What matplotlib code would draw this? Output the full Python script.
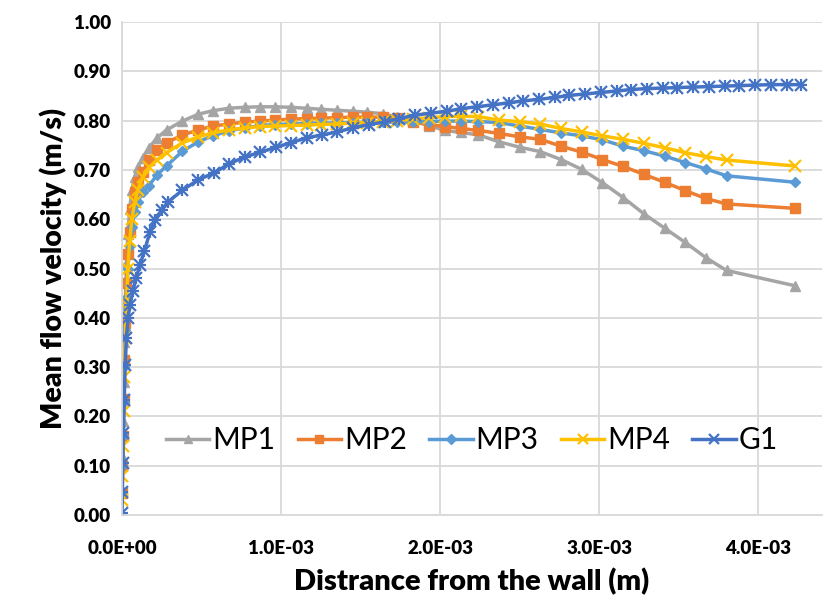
import matplotlib
matplotlib.use("Agg")
import matplotlib.pyplot as plt
from matplotlib.ticker import FuncFormatter

# ---- data (x in mm, converted to m when plotting) ----
mp_x_mm = [0.001, 0.003, 0.006, 0.010, 0.015, 0.021, 0.028, 0.037, 0.048, 0.062,
           0.080, 0.10, 0.13, 0.17, 0.22, 0.28, 0.38, 0.48, 0.57, 0.67,
           0.77, 0.87, 0.96, 1.06, 1.16, 1.25, 1.35, 1.45, 1.54, 1.64,
           1.73, 1.83, 1.93, 2.03, 2.13, 2.24, 2.37, 2.50, 2.63, 2.76,
           2.89, 3.02, 3.15, 3.28, 3.41, 3.54, 3.67, 3.80, 4.23]

mp1 = [0.05, 0.12, 0.19, 0.27, 0.35, 0.43, 0.51, 0.57, 0.62, 0.66,
       0.685, 0.705, 0.725, 0.745, 0.765, 0.781, 0.799, 0.813, 0.820, 0.825,
       0.827, 0.828, 0.828, 0.827, 0.825, 0.823, 0.821, 0.819, 0.817, 0.814,
       0.807, 0.799, 0.790, 0.780, 0.776, 0.771, 0.757, 0.746, 0.737, 0.721,
       0.701, 0.674, 0.644, 0.611, 0.582, 0.553, 0.522, 0.496, 0.465]

mp2 = [0.045, 0.10, 0.16, 0.235, 0.315, 0.39, 0.47, 0.53, 0.575, 0.62,
       0.655, 0.675, 0.695, 0.72, 0.74, 0.755, 0.771, 0.781, 0.789, 0.793,
       0.797, 0.799, 0.801, 0.803, 0.804, 0.805, 0.806, 0.807, 0.807, 0.807,
       0.805, 0.797, 0.792, 0.788, 0.784, 0.780, 0.774, 0.767, 0.762, 0.748,
       0.736, 0.721, 0.707, 0.691, 0.675, 0.658, 0.642, 0.631, 0.622]

mp3 = [0.045, 0.10, 0.16, 0.23, 0.30, 0.375, 0.44, 0.50, 0.545, 0.585,
       0.615, 0.635, 0.655, 0.668, 0.69, 0.708, 0.738, 0.757, 0.769, 0.779,
       0.785, 0.790, 0.792, 0.793, 0.794, 0.795, 0.795, 0.796, 0.796, 0.797,
       0.797, 0.797, 0.798, 0.799, 0.799, 0.798, 0.796, 0.789, 0.782, 0.775,
       0.769, 0.761, 0.748, 0.739, 0.728, 0.715, 0.702, 0.688, 0.675]

mp4 = [0.03, 0.08, 0.14, 0.21, 0.28, 0.36, 0.43, 0.50, 0.555, 0.60,
       0.635, 0.66, 0.685, 0.705, 0.72, 0.735, 0.755, 0.767, 0.775, 0.781,
       0.785, 0.788, 0.789, 0.790, 0.791, 0.792, 0.793, 0.795, 0.796, 0.798,
       0.800, 0.803, 0.806, 0.808, 0.809, 0.808, 0.801, 0.798, 0.793, 0.784,
       0.777, 0.769, 0.762, 0.754, 0.745, 0.735, 0.727, 0.720, 0.708]

g1_x_mm = [0.0, 0.002, 0.005, 0.009, 0.014, 0.020, 0.028, 0.038, 0.050, 0.069,
           0.088, 0.113, 0.14, 0.176, 0.21, 0.25, 0.29, 0.38, 0.48, 0.58,
           0.67, 0.77, 0.87, 0.97, 1.06, 1.16, 1.26, 1.35, 1.45, 1.55,
           1.65, 1.74, 1.84, 1.94, 2.04, 2.13, 2.23, 2.33, 2.43, 2.52,
           2.62, 2.72, 2.81, 2.91, 3.01, 3.11, 3.20, 3.30, 3.40, 3.49,
           3.59, 3.69, 3.79, 3.88, 3.98, 4.08, 4.18, 4.27]

g1 = [0.004, 0.047, 0.105, 0.166, 0.233, 0.304, 0.36, 0.40, 0.425, 0.455,
      0.48, 0.507, 0.535, 0.574, 0.598, 0.619, 0.635, 0.659, 0.680, 0.694,
      0.712, 0.726, 0.736, 0.746, 0.755, 0.765, 0.771, 0.777, 0.785, 0.792,
      0.797, 0.804, 0.811, 0.815, 0.819, 0.824, 0.828, 0.832, 0.836, 0.840,
      0.843, 0.847, 0.851, 0.854, 0.857, 0.860, 0.863, 0.865, 0.866, 0.867,
      0.868, 0.869, 0.870, 0.871, 0.872, 0.873, 0.873, 0.873]

series_names = ["MP1", "MP2", "MP3", "MP4", "G1"]
colors = ["#A5A5A5", "#ED7D31", "#5B9BD5", "#FFC000", "#4472C4"]
markers = ["^", "s", "D", "x", "x"]

x_ticks = [0.0, 1.0e-3, 2.0e-3, 3.0e-3, 4.0e-3]
y_ticks = [0.0, 0.1, 0.2, 0.3, 0.4, 0.5, 0.6, 0.7, 0.8, 0.9, 1.0]

# ---- plot ----
plt.rcParams['font.family'] = ['Lato', 'DejaVu Sans']
fig = plt.figure(figsize=(8.3, 6.09), dpi=100)
ax = fig.add_axes([122/830, 1-515/609, 700/830, 493/609])

mp_x = [v * 1e-3 for v in mp_x_mm]
g1_x = [v * 1e-3 for v in g1_x_mm]
data = [(mp_x, mp1), (mp_x, mp2), (mp_x, mp3), (mp_x, mp4), (g1_x, g1)]
msizes = [7, 7, 5.5, 8, 8]
for (xs, ys), name, c, m, ms in zip(data, series_names, colors, markers, msizes):
    mew = 1.6 if m == 'x' else 1.0
    ax.plot(xs, ys, color=c, lw=2.5, marker=m, ms=ms, mew=mew,
            mfc=c, mec=c, label=name, solid_joinstyle='round')
    if name == "G1":
        ax.plot(xs, ys, color=c, lw=0, marker='+', ms=ms + 1, mew=1.6)

ax.set_xlim(0, 4.4e-3)
ax.set_ylim(0, 1.0)
ax.set_xticks(x_ticks)
ax.set_yticks(y_ticks)
ax.xaxis.set_major_formatter(FuncFormatter(lambda v, p: f"{v:.1E}"))
ax.yaxis.set_major_formatter(FuncFormatter(lambda v, p: f"{v:.2f}"))
ax.grid(True, color="#D9D9D9", lw=1.3)
ax.set_axisbelow(True)
for s in ['top', 'right']:
    ax.spines[s].set_visible(False)
ax.spines['left'].set_color('#D9D9D9')
ax.spines['bottom'].set_color('#D9D9D9')
ax.spines['left'].set_linewidth(1.3)
ax.spines['bottom'].set_linewidth(1.3)
ax.tick_params(length=0, labelsize=13.5)
ax.tick_params(axis='x', pad=18)
ax.tick_params(axis='y', pad=8)
for lab in ax.get_xticklabels() + ax.get_yticklabels():
    lab.set_fontweight('heavy')

ax.set_xlabel("Distrance from the wall (m)", fontsize=21, fontweight='heavy', labelpad=8)
ax.set_ylabel("Mean flow velocity (m/s)", fontsize=20.5, fontweight='heavy', labelpad=5)

leg = ax.legend(loc='center', bbox_to_anchor=(0.5, 0.152), ncol=5, frameon=False,
                fontsize=21.5, handlelength=1.45, handletextpad=0.1, columnspacing=0.75,
                markerscale=0.9)

fig.savefig("out.png", dpi=100)
